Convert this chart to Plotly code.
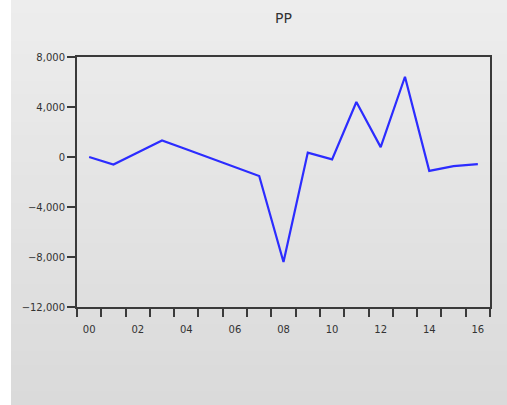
import plotly.graph_objects as go

# Annual PP values, 2000-2016
years = list(range(2000, 2017))
pp = [0, -600, 360, 1320, 615, -90, -790, -1520, -8400, 350, -190, 4400, 790, 6420, -1110, -730, -570]

y_ticks = [-12000, -8000, -4000, 0, 4000, 8000]
x_labels = [f"{y % 100:02d}" for y in years]
x_ticktext = [lab if y % 2 == 0 else "" for y, lab in zip(years, x_labels)]

W, H = 507, 405
L, R, T, B = 77, 17, 57, 98
pw, ph = W - L - R, H - T - B


def px_to_paper_x(px):
    return (px - L) / pw


def px_to_paper_y(py):
    return (H - B - py) / ph


# Light grey backdrop, shading slightly darker toward the bottom
shapes = []
n_bands = 30
top_rgb, bot_rgb = (237, 237, 237), (218, 218, 218)
for i in range(n_bands):
    f = i / (n_bands - 1)
    c = tuple(round(a + (b - a) * f) for a, b in zip(top_rgb, bot_rgb))
    y0 = H * i / n_bands
    y1 = H * (i + 1) / n_bands + 1
    shapes.append(dict(
        type="rect", xref="paper", yref="paper", layer="below",
        x0=px_to_paper_x(11), x1=px_to_paper_x(W),
        y0=px_to_paper_y(y1), y1=px_to_paper_y(y0),
        line=dict(width=0), fillcolor=f"rgb({c[0]},{c[1]},{c[2]})",
    ))

fig = go.Figure()
fig.add_trace(go.Scatter(
    x=x_labels, y=pp, mode="lines",
    line=dict(color="#2c2cff", width=2.2),
    hoverinfo="skip",
))

axis_common = dict(
    showline=True, mirror=True, linecolor="#3a3a3a", linewidth=2,
    ticks="outside", ticklen=8, tickwidth=2, tickcolor="#3a3a3a",
    showgrid=False, zeroline=False,
    tickfont=dict(family="DejaVu Sans", size=10, color="#333333"),
)

fig.update_layout(
    width=W, height=H,
    margin=dict(l=L, r=R, t=T, b=B),
    paper_bgcolor="white",
    plot_bgcolor="white",
    showlegend=False,
    shapes=shapes,
    title=dict(text="PP", x=0.5, xref="paper", y=1 - 18 / H, yanchor="middle",
               font=dict(family="DejaVu Sans", size=14, color="#333333")),
    xaxis=dict(
        type="category", categoryorder="array", categoryarray=x_labels,
        tickmode="array", tickvals=x_labels, ticktext=x_ticktext,
        tickson="boundaries", range=[-0.5, len(years) - 0.5],
        ticklabelstandoff=12,
        **axis_common,
    ),
    yaxis=dict(
        range=[-12000, 8000], tickvals=y_ticks, tickformat=",",
        **axis_common,
    ),
)

fig.write_html("out.html")
